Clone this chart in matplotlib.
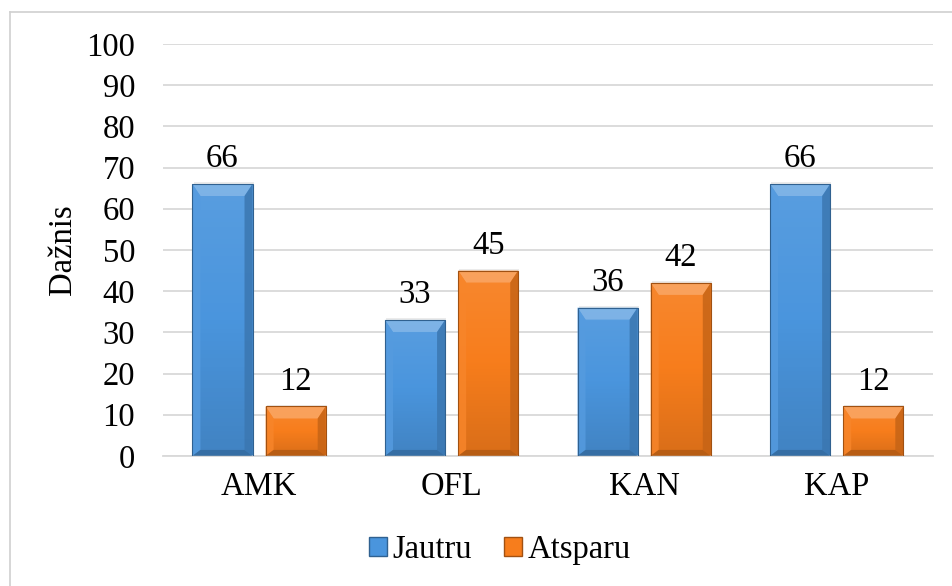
import numpy as np
import matplotlib
matplotlib.use("Agg")
import matplotlib.pyplot as plt
from matplotlib.patches import Polygon, Patch, Rectangle
from matplotlib.colors import LinearSegmentedColormap, to_rgb

categories = ["AMK", "OFL", "KAN", "KAP"]
series_names = ["Jautru", "Atsparu"]
jautru = [66, 33, 36, 66]
atsparu = [12, 45, 42, 12]
y_ticks = list(range(0, 101, 10))

plt.rcParams["font.family"] = ["Liberation Serif", "DejaVu Serif"]

BLUE = "#4a95dd"
ORANGE = "#f77d1c"
FONT = 23.5

fig = plt.figure(figsize=(9.52, 5.86), dpi=100)
ax = fig.add_axes([0.171, 0.222, 0.809, 0.703])

# outer frame (only left/top edges fall inside the canvas)
fig.add_artist(plt.Line2D([0.0105, 0.0105], [0.0, 0.98], transform=fig.transFigure,
                          color="#d0d0d0", lw=1.2))
fig.add_artist(plt.Line2D([0.0105, 1.0], [0.98, 0.98], transform=fig.transFigure,
                          color="#d0d0d0", lw=1.2))

x = np.arange(len(categories))
bw = 0.312
gap = 0.068
off = (bw + gap) / 2

ax.set_xlim(-0.5, len(categories) - 0.5)
ax.set_ylim(0, 100)


def shade(color, f):
    r, g, b = to_rgb(color)
    if f >= 0:
        return (r + (1 - r) * f, g + (1 - g) * f, b + (1 - b) * f)
    return (r * (1 + f), g * (1 + f), b * (1 + f))


def bevel_bar(bar, color):
    """Gradient fill plus bevelled edges on a single bar patch."""
    x0, y0 = bar.get_x(), bar.get_y()
    w, h = bar.get_width(), bar.get_height()
    # bevel size in pixels, converted to data units
    ax_w = fig.get_figwidth() * fig.dpi * ax.get_position().width
    ax_h = fig.get_figheight() * fig.dpi * ax.get_position().height
    px_x = (ax.get_xlim()[1] - ax.get_xlim()[0]) / ax_w
    px_y = (ax.get_ylim()[1] - ax.get_ylim()[0]) / ax_h
    bx, by = 8 * px_x, 12 * px_y
    by = min(by, h / 2)

    cmap = LinearSegmentedColormap.from_list(
        "g", [shade(color, -0.12), color, shade(color, 0.08)])
    grad = np.linspace(0, 1, 64).reshape(-1, 1)
    im = ax.imshow(grad, extent=[x0, x0 + w, y0, y0 + h], origin="lower",
                   cmap=cmap, aspect="auto", zorder=2)
    im.set_clip_path(bar)

    x1, y1 = x0 + w, y0 + h
    bby = by * 0.5
    faces = [
        ([(x0, y1), (x1, y1), (x1 - bx, y1 - by), (x0 + bx, y1 - by)], shade(color, 0.32)),
        ([(x0, y0), (x0, y1), (x0 + bx, y1 - by), (x0 + bx, y0 + bby)], shade(color, 0.06)),
        ([(x1, y0), (x1, y1), (x1 - bx, y1 - by), (x1 - bx, y0 + bby)], shade(color, -0.20)),
        ([(x0, y0), (x1, y0), (x1 - bx, y0 + bby), (x0 + bx, y0 + bby)], shade(color, -0.28)),
    ]
    for pts, c in faces:
        ax.add_patch(Polygon(pts, closed=True, facecolor=c, edgecolor="none",
                             alpha=0.85, zorder=3))
    ax.add_patch(Rectangle((x0, y0), w, h, facecolor="none",
                           edgecolor=shade(color, -0.35), lw=0.8, zorder=4))


for vals, dx, color in [(jautru, -off, BLUE), (atsparu, off, ORANGE)]:
    bars = ax.bar(x + dx, vals, width=bw, color=color, zorder=2)
    for b, v in zip(bars, vals):
        # soft drop shadow
        ax.add_patch(Rectangle((b.get_x() + 0.006, 0), b.get_width(), v + 0.4,
                               facecolor="#000000", alpha=0.08, lw=0, zorder=1.5))
        bevel_bar(b, color)
        ax.annotate(str(v), (b.get_x() + b.get_width() / 2, v),
                    xytext=(0, 7), textcoords="offset points",
                    ha="center", va="bottom", fontsize=FONT, color="black")

ax.set_yticks(y_ticks)
ax.set_yticklabels([str(t) for t in y_ticks], fontsize=FONT)
ax.set_xticks(x)
ax.set_xticklabels(categories, fontsize=FONT)
ax.tick_params(axis="y", length=0, pad=20)
ax.tick_params(axis="x", length=0, pad=11)
ax.yaxis.grid(True, color="#d9d9d9", lw=1.3, zorder=0)
ax.set_axisbelow(True)
for s in ["top", "right", "left"]:
    ax.spines[s].set_visible(False)
ax.spines["bottom"].set_color("#d9d9d9")
ax.spines["bottom"].set_linewidth(1.3)

ax.set_ylabel("Dažnis", fontsize=FONT, labelpad=6)

handles = [Patch(facecolor=BLUE, edgecolor=shade(BLUE, -0.35)),
           Patch(facecolor=ORANGE, edgecolor=shade(ORANGE, -0.35))]
fig.legend(handles, series_names, loc="center", bbox_to_anchor=(0.525, 0.062),
           ncol=2, frameon=False, fontsize=FONT, handlelength=0.55,
           handleheight=0.55, handletextpad=0.15, columnspacing=1.0)

fig.savefig("out.png", dpi=100)
